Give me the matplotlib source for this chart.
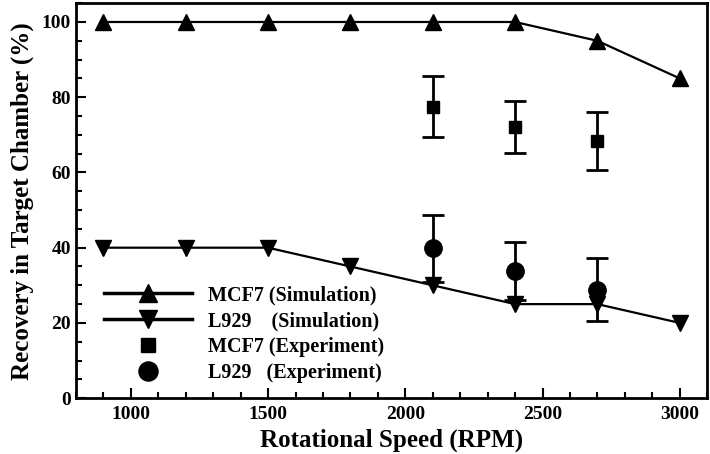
import matplotlib.pyplot as plt
from matplotlib.ticker import MultipleLocator

# simulation data
rpm_sim = [900, 1200, 1500, 1800, 2100, 2400, 2700, 3000]
mcf7_sim = [100, 100, 100, 100, 100, 100, 95, 85]
l929_sim = [40, 40, 40, 35, 30, 25, 25, 20]

# experiment data
rpm_exp = [2100, 2400, 2700]
mcf7_exp = [77.5, 72.1, 68.4]
mcf7_err = [8.2, 6.9, 7.7]
l929_exp = [39.8, 33.9, 28.8]
l929_err = [8.8, 7.7, 8.4]

plt.rcParams['font.family'] = ['Liberation Serif', 'DejaVu Serif']
plt.rcParams['font.weight'] = 'bold'

fig = plt.figure(figsize=(7.10, 4.54), dpi=100)
ax = fig.add_axes([0.107, 0.123, 0.889, 0.870])

ax.plot(rpm_sim, mcf7_sim, color='black', lw=1.6, marker='^', ms=11.5,
        label='MCF7 (Simulation)')
ax.plot(rpm_sim, l929_sim, color='black', lw=1.6, marker='v', ms=11.5,
        label='L929    (Simulation)')
ax.errorbar(rpm_exp, mcf7_exp, yerr=mcf7_err, fmt='s', color='black', ms=9,
            elinewidth=2, capsize=8, capthick=2, label='MCF7 (Experiment)')
ax.errorbar(rpm_exp, l929_exp, yerr=l929_err, fmt='o', color='black', ms=12.5,
            elinewidth=2, capsize=8, capthick=2, label='L929   (Experiment)')

ax.set_xlim(800, 3100)
ax.set_ylim(0, 105)
ax.xaxis.set_major_locator(MultipleLocator(500))
ax.xaxis.set_minor_locator(MultipleLocator(100))
ax.yaxis.set_major_locator(MultipleLocator(20))
ax.yaxis.set_minor_locator(MultipleLocator(5))
ax.tick_params(which='both', direction='in', width=1.5, labelsize=14)
ax.tick_params(which='major', length=7)
ax.tick_params(which='minor', length=4)
ax.tick_params(axis='x', pad=6)
for s in ax.spines.values():
    s.set_linewidth(2)

ax.set_xlabel('Rotational Speed (RPM)', fontsize=18, fontweight='bold', labelpad=4)
ax.set_ylabel('Recovery in Target Chamber (%)', fontsize=18, fontweight='bold', labelpad=6)

# legend without error bars
h, l = ax.get_legend_handles_labels()
handles = [h[0], h[1], h[2][0], h[3][0]]
leg = ax.legend(handles, l, loc='lower left', bbox_to_anchor=(0.015, -0.008),
                frameon=False, fontsize=14.5, handlelength=4.4,
                labelspacing=0.3, handletextpad=0.8, markerscale=1.1)
for line in leg.get_lines()[:2]:
    line.set_linewidth(2.5)

fig.savefig('out.png', dpi=100)
